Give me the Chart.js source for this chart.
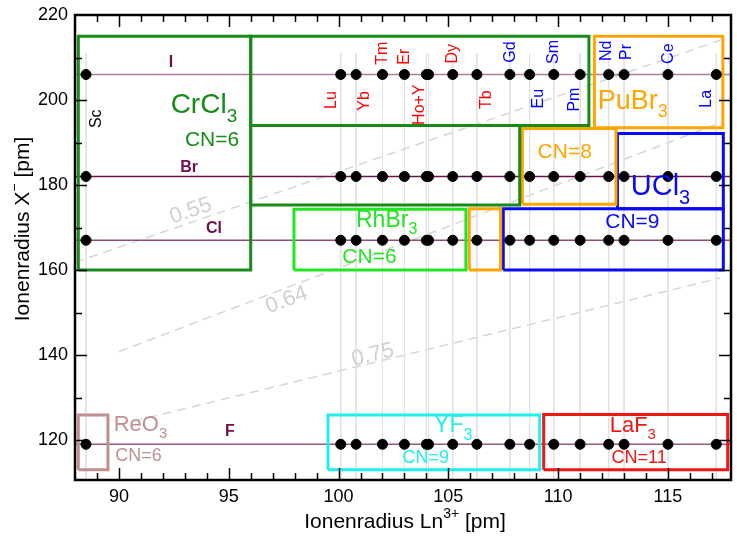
<!DOCTYPE html>
<html>
<head>
<meta charset="utf-8">
<script src="https://cdn.jsdelivr.net/npm/chart.js@4.4.1/dist/chart.umd.min.js"></script>
<style>
    body { margin: 0; background: #fff; }
    canvas { display: block; }
</style>
</head>
<body>
<canvas id="chartRadii" width="737" height="536"></canvas>
<script>
// Shannon crystal radii, CN=6 (pm)
const ions = ["Sc", "Lu", "Yb", "Tm", "Er", "Ho", "Y", "Dy", "Tb", "Gd", "Eu", "Sm", "Pm", "Nd", "Pr", "Ce", "La"];
const ionRadius = [88.5, 100.1, 100.8, 102.0, 103.0, 104.1, 104.0, 105.2, 106.3, 107.8, 108.7, 109.8, 111.0, 112.3, 113.0, 115.0, 117.2];

const anions = ["F", "Cl", "Br", "I"];
const anionRadius = [119, 167, 182, 206];

// dashed radius-ratio guide lines
const ratios = ["0.55", "0.64", "0.75"];
const ratioStart = [[88.0, 161.8], [90.0, 140.8], [90.0, 123.6]];
const ratioEnd = [[117.4, 214.1], [117.36, 194.6], [117.36, 158.1]];

// structure type fields
const structures = ["CrCl3", "RhBr3", "PuBr3", "UCl3", "ReO3", "YF3", "LaF3"];
const structureCN = ["CN=6", "CN=6", "CN=8", "CN=9", "CN=6", "CN=9", "CN=11"];
const structureRects = [
    [[88.15, 96.0, 160, 215], [96.0, 111.4, 194, 215], [96.0, 108.25, 175.3, 194]],
    [[97.97, 105.8, 160, 174.3]],
    [[111.65, 117.5, 193.5, 215], [108.37, 112.63, 175.5, 193.3], [105.95, 107.38, 160, 174.4]],
    [[112.7, 117.52, 174.4, 192.1], [107.5, 117.52, 160, 174.4]],
    [[88.15, 89.5, 113, 125.9]],
    [[99.52, 109.16, 113, 125.9]],
    [[109.34, 117.72, 113, 126]]
];

const xTicks = [90, 95, 100, 105, 110, 115];
const yTicks = [120, 140, 160, 180, 200, 220];

// ---- styling / placement ----
const FONT = "'Liberation Sans', Arial, sans-serif";
const structureColors = ["#178a17", "#22e622", "#ffa500", "#0a0af5", "#c09090", "#22eeee", "#f01616"];
const structureLabelPos = [[93.87, 198.7], [102.19, 171.6], [113.4, 199.7], [114.66, 179.6], [90.98, 123.5], [105.22, 123.3], [113.4, 123.3]];
const structureLabelSize = [28, 23, 27, 29, 22, 23, 22];
const cnLabelPos = [[94.24, 190.5], [101.41, 163.0], [110.3, 187.7], [113.38, 171.3], [90.89, 116.3], [103.97, 115.8], [113.69, 115.8]];
const cnLabelSize = [21, 21, 21, 21, 18, 18, 18];

const ionLabels = [
    ["Sc", 88.98, 195.6, "#000"], ["Lu", 99.67, 200.0, "red"], ["Yb", 101.18, 199.8, "red"],
    ["Tm", 102.0, 211.0, "red"], ["Er", 103.02, 210.2, "red"], ["Ho+Y", 103.67, 198.9, "red"],
    ["Dy", 105.2, 210.9, "red"], ["Tb", 106.75, 200.1, "red"], ["Gd", 107.84, 211.3, "blue"],
    ["Eu", 109.09, 200.3, "blue"], ["Sm", 109.81, 211.3, "blue"], ["Pm", 110.74, 200.1, "blue"],
    ["Nd", 112.22, 211.6, "blue"], ["Pr", 113.11, 211.3, "blue"], ["Ce", 115.04, 210.9, "blue"],
    ["La", 116.77, 200.3, "blue"]
];
const anionLabelPos = [[95.05, 122.0], [94.33, 169.8], [93.2, 184.1], [92.37, 208.7]];
const anionLineAlpha = [0.7, 0.75, 1.0, 0.55];
const ratioLabelPos = [[93.27, 173.9], [97.64, 152.9], [101.56, 140.0]];

const X_MIN = 88, X_MAX = 117.87, Y_MIN = 110.6, Y_MAX = 220;

const datasets = [];

// all measured points
const points = [];
anionRadius.forEach((ry) => ionRadius.forEach((rx) => points.push({ x: rx, y: ry })));
datasets.push({
    data: points,
    pointRadius: 5,
    pointBackgroundColor: "#000",
    pointBorderColor: "#000",
    order: 0,
});

// structure boxes
structureRects.forEach((rects, i) => {
    rects.forEach((r) => {
        datasets.push({
            data: [{ x: r[0], y: r[2] }, { x: r[1], y: r[2] }, { x: r[1], y: r[3] }, { x: r[0], y: r[3] }, { x: r[0], y: r[2] }],
            showLine: true,
            borderColor: structureColors[i],
            borderWidth: 3,
            pointRadius: 0,
            borderJoinStyle: "miter",
            order: 1,
        });
    });
});

// anion rows
anionRadius.forEach((ry, i) => {
    datasets.push({
        data: [{ x: X_MIN, y: ry }, { x: X_MAX, y: ry }],
        showLine: true,
        borderColor: `rgba(110, 16, 80, ${anionLineAlpha[i]})`,
        borderWidth: 1.5,
        pointRadius: 0,
        order: 2,
    });
});

// cation columns
ionRadius.forEach((rx) => {
    datasets.push({
        data: [{ x: rx, y: 211 }, { x: rx, y: Y_MIN }],
        showLine: true,
        borderColor: "#e2e2e2",
        borderWidth: 1,
        pointRadius: 0,
        order: 3,
    });
});

// ratio guides
ratios.forEach((_, i) => {
    datasets.push({
        data: [{ x: ratioStart[i][0], y: ratioStart[i][1] }, { x: ratioEnd[i][0], y: ratioEnd[i][1] }],
        showLine: true,
        borderColor: "#d6d6d6",
        borderWidth: 1.5,
        borderDash: [9, 6],
        pointRadius: 0,
        order: 4,
    });
});

// segments: [text, "n" | "sub" | "sup"]
function drawRich(ctx, segments, cx, cy, size, color, angle) {
    const small = Math.round(size * 0.68);
    const fontFor = (kind) => (kind === "n" ? size : small) + "px " + FONT;
    let width = 0;
    segments.forEach(([t, kind]) => { ctx.font = fontFor(kind); width += ctx.measureText(t).width; });
    ctx.save();
    ctx.translate(cx, cy);
    ctx.rotate(angle || 0);
    ctx.fillStyle = color;
    ctx.textAlign = "left";
    ctx.textBaseline = "middle";
    let px = -width / 2;
    segments.forEach(([t, kind]) => {
        ctx.font = fontFor(kind);
        const dy = kind === "sub" ? size * 0.4 : (kind === "sup" ? -size * 0.38 : 0);
        ctx.fillText(t, px, dy);
        px += ctx.measureText(t).width;
    });
    ctx.restore();
}

function formulaSegments(text) {
    return text.match(/[^0-9]+|[0-9]+/g).map((p) => [p, /[0-9]/.test(p) ? "sub" : "n"]);
}

const labelPlugin = {
    id: "labels",
    afterDatasetsDraw(chart) {
        const { ctx, scales: { x, y } } = chart;
        ctx.save();

        // ratio labels, rotated along their line
        ratios.forEach((text, i) => {
            const x1 = x.getPixelForValue(ratioStart[i][0]), y1 = y.getPixelForValue(ratioStart[i][1]);
            const x2 = x.getPixelForValue(ratioEnd[i][0]), y2 = y.getPixelForValue(ratioEnd[i][1]);
            drawRich(ctx, [[text, "n"]], x.getPixelForValue(ratioLabelPos[i][0]), y.getPixelForValue(ratioLabelPos[i][1]),
                22, "#d0d0d0", Math.atan2(y2 - y1, x2 - x1));
        });

        // ion names, vertical
        ionLabels.forEach(([text, lx, ly, color]) => {
            drawRich(ctx, [[text, "n"]], x.getPixelForValue(lx), y.getPixelForValue(ly), 16, color, -Math.PI / 2);
        });

        // anion names
        anions.forEach((text, i) => {
            ctx.font = "bold 16px " + FONT;
            ctx.fillStyle = "#6e1050";
            ctx.textAlign = "center";
            ctx.textBaseline = "middle";
            ctx.fillText(text, x.getPixelForValue(anionLabelPos[i][0]), y.getPixelForValue(anionLabelPos[i][1]));
        });

        // structure names + CN
        structures.forEach((text, i) => {
            drawRich(ctx, formulaSegments(text), x.getPixelForValue(structureLabelPos[i][0]), y.getPixelForValue(structureLabelPos[i][1]),
                structureLabelSize[i], structureColors[i]);
            drawRich(ctx, [[structureCN[i], "n"]], x.getPixelForValue(cnLabelPos[i][0]), y.getPixelForValue(cnLabelPos[i][1]),
                cnLabelSize[i], structureColors[i]);
        });
        ctx.restore();
    }
};

const framePlugin = {
    id: "frame",
    afterDraw(chart) {
        const { ctx, chartArea: a, scales: { x, y } } = chart;
        ctx.save();
        ctx.strokeStyle = "#000";
        ctx.lineWidth = 1.5;
        ctx.beginPath();
        for (let v = 89; v <= 117; v++) {
            const px = Math.round(x.getPixelForValue(v)) + 0.5;
            const len = v % 5 === 0 ? 12 : 7;
            ctx.moveTo(px, a.bottom); ctx.lineTo(px, a.bottom - len);
            ctx.moveTo(px, a.top); ctx.lineTo(px, a.top + len);
        }
        for (let v = 120; v <= 210; v += 10) {
            const py = Math.round(y.getPixelForValue(v)) + 0.5;
            const len = v % 20 === 0 ? 12 : 7;
            ctx.moveTo(a.left, py); ctx.lineTo(a.left + len, py);
            ctx.moveTo(a.right, py); ctx.lineTo(a.right - len, py);
        }
        ctx.stroke();
        ctx.lineWidth = 2.5;
        ctx.strokeRect(a.left, a.top, a.right - a.left, a.bottom - a.top);

        // axis titles with real super/subscripts
        drawRich(ctx, [["Ionenradius Ln", "n"], ["3+", "sup"], [" [pm]", "n"]], (a.left + a.right) / 2 + 2, 522, 21, "#000");
        drawRich(ctx, [["Ionenradius X", "n"], ["−", "sup"], [" [pm]", "n"]], 23, 229, 21, "#000", -Math.PI / 2);
        ctx.restore();
    }
};

function noPadding(s) {
    s.paddingTop = 0;
    s.paddingBottom = 0;
    s.paddingLeft = 0;
    s.paddingRight = 0;
}

const chartElement = document.getElementById("chartRadii");
chartElement.chart = new Chart(chartElement, {
    type: "scatter",
    data: { datasets: datasets },
    options: {
        responsive: false,
        animation: false,
        events: [],
        layout: { padding: { top: 15, right: -3, left: 0, bottom: 0 } },
        plugins: {
            legend: { display: false },
            tooltip: { enabled: false },
        },
        scales: {
            x: {
                type: "linear",
                min: X_MIN,
                max: X_MAX,
                grid: { display: false, drawTicks: false },
                border: { display: false },
                afterBuildTicks: (s) => { s.ticks = xTicks.map((v) => ({ value: v })); },
                afterFit: (s) => { s.height = 56; noPadding(s); },
                ticks: { color: "#000", font: { size: 18, family: FONT }, padding: 6, maxRotation: 0 },
            },
            y: {
                type: "linear",
                min: Y_MIN,
                max: Y_MAX,
                grid: { display: false, drawTicks: false },
                border: { display: false },
                afterBuildTicks: (s) => { s.ticks = yTicks.map((v) => ({ value: v })); },
                afterFit: (s) => { s.width = 75; noPadding(s); },
                ticks: { color: "#000", font: { size: 18, family: FONT }, padding: 7 },
            },
        },
    },
    plugins: [labelPlugin, framePlugin],
});
</script>
</body>
</html>
